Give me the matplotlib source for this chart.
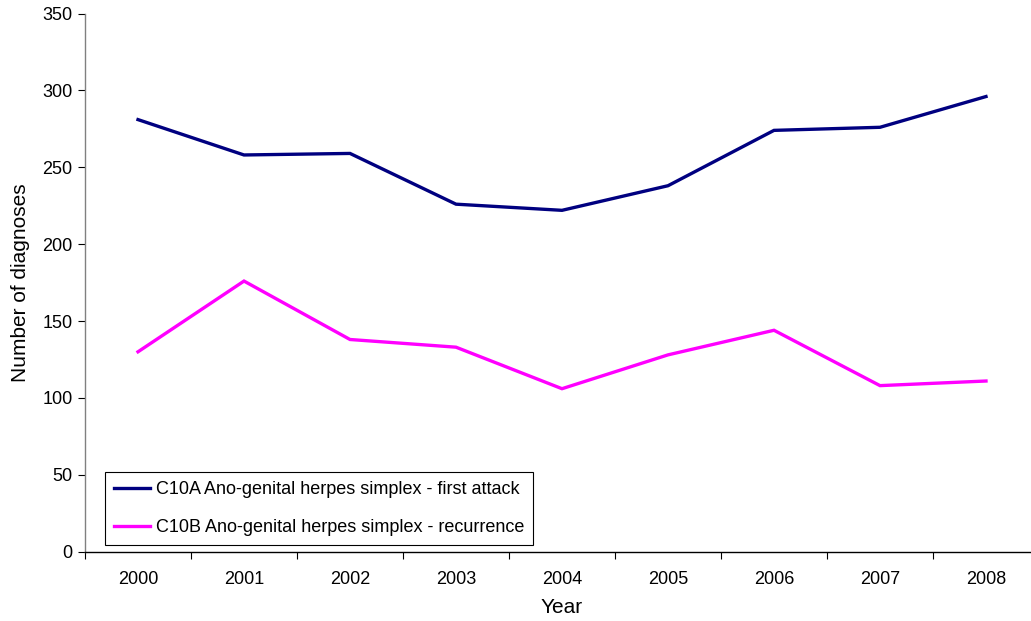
import numpy as np
import matplotlib.pyplot as plt

plt.rcParams['font.family'] = ['Liberation Sans', 'DejaVu Sans']

years = ['2000', '2001', '2002', '2003', '2004', '2005', '2006', '2007', '2008']
first_attack = [281, 258, 259, 226, 222, 238, 274, 276, 296]
recurrence = [130, 176, 138, 133, 106, 128, 144, 108, 111]

W, H = 1031, 621
fig = plt.figure(figsize=(W / 100, H / 100), dpi=100)
# axes runs a little past the right edge of the picture, as in the original
ax = fig.add_axes([85 / W, (H - 551.7) / H, (1039 - 85) / W, (551.7 - 13.5) / H])

x = np.arange(len(years))
ax.plot(x, first_attack, color='#000080', lw=2.4, solid_joinstyle='miter',
        label='C10A Ano-genital herpes simplex - first attack')
ax.plot(x, recurrence, color='#FF00FF', lw=2.4, solid_joinstyle='miter',
        label='C10B Ano-genital herpes simplex - recurrence')

ax.set_xlim(-0.5, len(years) - 0.5)
ax.set_ylim(0, 350)
ax.set_yticks(np.arange(0, 351, 50))
ax.set_xticks(x)
ax.set_xticklabels(years)
ax.set_xticks(np.arange(-0.5, len(years) - 0.4, 1), minor=True)
ax.tick_params(axis='x', which='major', length=0, pad=14, labelsize=13)
ax.tick_params(axis='x', which='minor', length=5, width=0.8, direction='out')
ax.tick_params(axis='y', length=5, width=0.8, direction='out', labelsize=13, pad=4)

for s in ['top', 'right']:
    ax.spines[s].set_visible(False)
ax.spines['left'].set_color('#808080')
ax.spines['left'].set_linewidth(1.0)
ax.spines['bottom'].set_linewidth(1.0)

ax.set_xlabel('Year', fontsize=15, labelpad=7)
ax.set_ylabel('Number of diagnoses', fontsize=15, labelpad=9)

leg = ax.legend(loc='lower left', bbox_to_anchor=(0.021, 0.012), fontsize=13,
                frameon=True, fancybox=False, edgecolor='black', framealpha=1,
                handlelength=2.0, handletextpad=0.3, labelspacing=1.15,
                borderpad=0.5, borderaxespad=0)
leg.get_frame().set_linewidth(0.8)

fig.savefig('out.png', dpi=100)
